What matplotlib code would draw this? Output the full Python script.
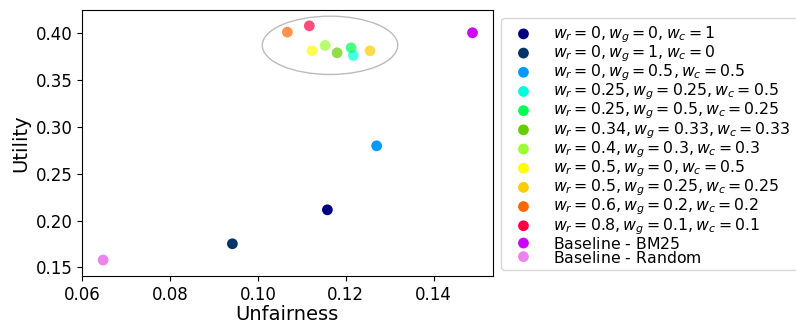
import matplotlib
matplotlib.use('Agg')
import matplotlib.pyplot as plt
from matplotlib.patches import Ellipse

labels = [
    r'$w_r = 0, w_g = 0, w_c = 1$',
    r'$w_r = 0, w_g = 1, w_c = 0$',
    r'$w_r = 0, w_g = 0.5, w_c = 0.5$',
    r'$w_r = 0.25, w_g = 0.25, w_c = 0.5$',
    r'$w_r = 0.25, w_g = 0.5, w_c = 0.25$',
    r'$w_r = 0.34, w_g = 0.33, w_c = 0.33$',
    r'$w_r = 0.4, w_g = 0.3, w_c = 0.3$',
    r'$w_r = 0.5, w_g = 0, w_c = 0.5$',
    r'$w_r = 0.5, w_g = 0.25, w_c = 0.25$',
    r'$w_r = 0.6, w_g = 0.2, w_c = 0.2$',
    r'$w_r = 0.8, w_g = 0.1, w_c = 0.1$',
    r'Baseline - BM25$_{\,}$',
    r'Baseline - Random$_{\,}$',
]
unfairness = [0.1158, 0.0942, 0.1270, 0.1217, 0.1212, 0.1180, 0.1153, 0.1123, 0.1255, 0.1067, 0.1117, 0.1488, 0.0648]
utility = [0.2115, 0.1752, 0.2799, 0.3765, 0.3847, 0.3793, 0.3872, 0.3815, 0.3815, 0.4014, 0.4081, 0.4007, 0.1578]
colors = ['#000080', '#003366', '#0099ff', '#00ffdd', '#00ff55', '#66cc00', '#99ff33',
          '#ffff00', '#ffcc00', '#ff6600', '#ff0044', '#cc00ff', '#ee82ee']
alphas = [1, 1, 1, 0.7, 0.7, 0.7, 0.7, 0.7, 0.7, 0.7, 0.7, 1, 1]

fig = plt.figure(figsize=(7.96, 3.24), dpi=100)
ax = fig.add_axes([0.103, 0.148, 0.516, 0.821])

handles = []
for x, y, c, a, lab in zip(unfairness, utility, colors, alphas, labels):
    ax.scatter([x], [y], s=60, color=c, alpha=a, edgecolors='none', zorder=3)
    h = ax.scatter([], [], s=60, color=c, edgecolors='none', label=lab)
    handles.append(h)

ax.add_patch(Ellipse((0.1164, 0.3873), 0.0308, 0.0623, fill=False,
                     edgecolor='#bbbbbb', linewidth=1.0))

ax.set_xlim(0.06, 0.1534)
ax.set_ylim(0.1407, 0.425)
ax.set_xticks([0.06, 0.08, 0.10, 0.12, 0.14])
ax.set_yticks([0.15, 0.20, 0.25, 0.30, 0.35, 0.40])
ax.tick_params(labelsize=12)
ax.set_xlabel('Unfairness', fontsize=14, labelpad=1)
ax.set_ylabel('Utility', fontsize=14)

fig.legend(handles=handles, loc='upper left', bbox_to_anchor=(0.630, 0.945),
           fontsize=11.3, labelspacing=-0.09, handletextpad=0.9, borderpad=0.4,
           borderaxespad=0.0)

fig.savefig('out.png', dpi=100)
